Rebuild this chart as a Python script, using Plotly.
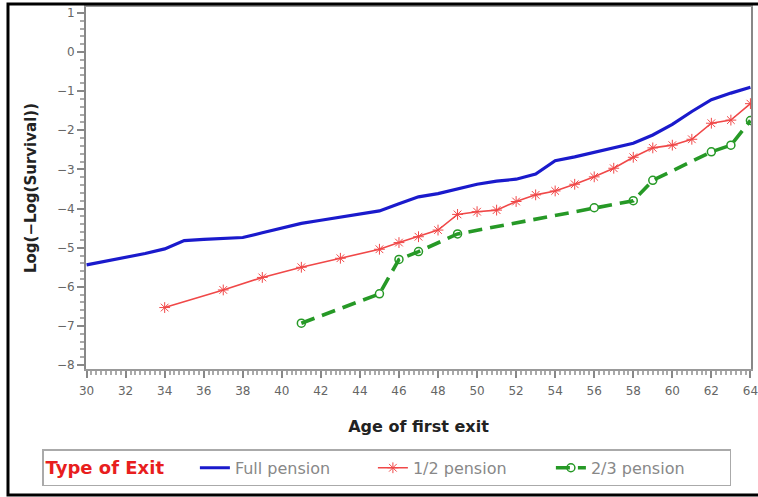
import plotly.graph_objects as go

# Age of first exit and log(-log(survival)) estimates by type of exit
full_age = [30, 31, 32, 33, 34, 35, 36, 37, 38, 39, 40, 41, 42, 43, 44, 45, 46, 47,
            48, 49, 50, 51, 52, 53, 54, 55, 56, 57, 58, 59, 60, 61, 62, 63, 64]
full_val = [-5.44, -5.35, -5.25, -5.15, -5.03, -4.82, -4.79, -4.77, -4.74, -4.62,
            -4.50, -4.38, -4.30, -4.22, -4.15, -4.06, -3.88, -3.70, -3.62, -3.50,
            -3.38, -3.30, -3.25, -3.12, -2.78, -2.68, -2.56, -2.45, -2.33, -2.12,
            -1.85, -1.52, -1.22, -1.05, -0.90]

half_age = [34, 37, 39, 41, 43, 45, 46, 47, 48, 49, 50, 51, 52, 53, 54, 55, 56, 57,
            58, 59, 60, 61, 62, 63, 64]
half_val = [-6.53, -6.08, -5.76, -5.50, -5.27, -5.04, -4.87, -4.72, -4.55, -4.15,
            -4.08, -4.04, -3.82, -3.65, -3.55, -3.38, -3.19, -2.97, -2.69, -2.45,
            -2.38, -2.23, -1.82, -1.74, -1.32]

twothird_age = [41, 45, 46, 47, 49, 56, 58, 59, 62, 63, 64]
twothird_val = [-6.93, -6.18, -5.30, -5.10, -4.65, -3.98, -3.80, -3.28, -2.55, -2.38, -1.75]

x_ticks = list(range(30, 65, 2))
y_ticks = list(range(-8, 2))

FONT = "DejaVu Sans, Verdana, sans-serif"

fig = go.Figure()
fig.add_trace(go.Scatter(
    x=full_age, y=full_val, name="Full pension", mode="lines",
    line=dict(color="#1a1acc", width=3.2)))
fig.add_trace(go.Scatter(
    x=half_age, y=half_val, name="1/2 pension", mode="lines+markers",
    line=dict(color="#f04848", width=1.6),
    marker=dict(symbol="asterisk-open", size=9, color="#f04848",
                line=dict(color="#f04848", width=1))))
fig.add_trace(go.Scatter(
    x=twothird_age, y=twothird_val, name="2/3 pension", mode="lines+markers",
    line=dict(color="#269926", width=3.6, dash="14px,8px"),
    marker=dict(symbol="circle-open", size=8, color="#269926",
                line=dict(color="#269926", width=1.5))))

axis_font = dict(family=FONT, size=12, color="#666666")

fig.update_xaxes(
    range=[29.97, 64.03], tickvals=x_ticks, ticks="outside", ticklen=7,
    tickcolor="#888888", tickwidth=1.5, tickfont=axis_font, ticklabelstandoff=3,
    ticklabeloverflow="allow",
    minor=dict(dtick=0.25, ticks="outside", ticklen=4, tickcolor="#aaaaaa"),
    showline=True, linecolor="#999999", linewidth=2, mirror=True,
    showgrid=False, zeroline=False, automargin=False,
    title=dict(text="<b>Age of first exit</b>",
               font=dict(family=FONT, size=16, color="#222222"), standoff=23))
fig.update_yaxes(
    range=[-8.1, 1.15], tickvals=y_ticks, ticks="outside", ticklen=7,
    tickcolor="#888888", tickwidth=1.5, tickfont=axis_font,
    ticklabeloverflow="allow",
    minor=dict(dtick=0.2, ticks="outside", ticklen=4, tickcolor="#aaaaaa"),
    showline=True, linecolor="#888888", linewidth=2, mirror=True,
    showgrid=False, zeroline=False, automargin=False,
    title=dict(text="<b>Log(\u2212Log(Survival))</b>",
               font=dict(family=FONT, size=15, color="#222222"), standoff=17))

fig.update_layout(
    width=758, height=497,
    margin=dict(l=86, r=7, t=7, b=128, autoexpand=False),
    plot_bgcolor="white", paper_bgcolor="white",
    legend=dict(
        orientation="h", x=-0.066, y=-0.222, xanchor="left", yanchor="top",
        title=dict(text="<b>Type of Exit</b>&nbsp;&nbsp;&nbsp;&nbsp;", side="left",
                   font=dict(family=FONT, size=18, color="#e81e1e")),
        font=dict(family=FONT, size=16, color="#888888"),
        bordercolor="#aaaaaa", borderwidth=1.5, bgcolor="white",
        entrywidth=133, itemwidth=30),
    shapes=[dict(type="rect", xref="paper", yref="paper",
                 x0=-0.1173, x1=1.015, y0=-0.348, y1=1.0083,
                 line=dict(color="black", width=3))],
)

fig.write_html("out.html")
